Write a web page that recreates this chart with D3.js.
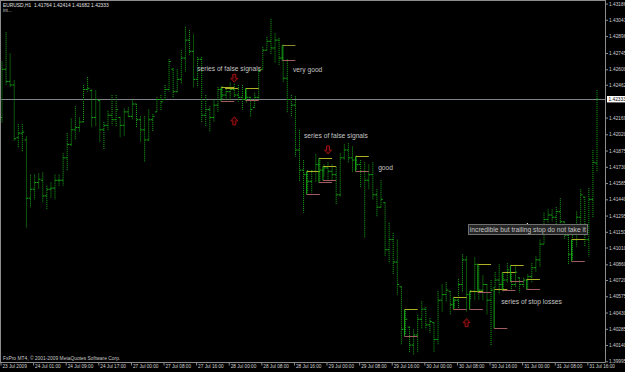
<!DOCTYPE html>
<html>
<head>
<meta charset="utf-8">
<script src="https://cdn.jsdelivr.net/npm/d3@7"></script>
<style>
body { margin: 0; background: #000; }
svg { display: block; }
text { font-family: "Liberation Sans", Arial, sans-serif; }
</style>
</head>
<body>
<div id="chart"></div>
<script>
// EURUSD H1, 23 Jul 2009 17:00 .. 31 Jul 2009
var opens = [1.4217,1.4260,1.4249,1.4246,1.4199,1.4203,1.4197,1.4145,1.4153,1.4159,1.4161,1.4147,1.4153,1.4154,1.4161,1.4161,1.4181,1.4193,1.4206,1.4208,
	1.4213,1.4242,1.4241,1.4217,1.4232,1.4206,1.4210,1.4219,1.4215,1.4217,1.4210,1.4222,1.4218,1.4229,1.4215,1.4206,1.4197,1.4215,1.4222,1.4233,
	1.4233,1.4242,1.4260,1.4240,1.4251,1.4270,1.4286,1.4276,1.4251,1.4269,1.4219,1.4224,1.4217,1.4228,1.4242,1.4237,1.4240,1.4242,1.4237,1.4235,
	1.4233,1.4235,1.4226,1.4235,1.4260,1.4277,1.4285,1.4279,1.4286,1.4270,1.4252,1.4233,1.4228,1.4188,1.4170,1.4166,1.4160,1.4169,1.4175,1.4170,
	1.4172,1.4169,1.4166,1.4148,1.4181,1.4188,1.4181,1.4179,1.4175,1.4169,1.4161,1.4166,1.4148,1.4137,1.4141,1.4099,1.4108,1.4088,1.4066,1.4028,
	1.4030,1.4014,1.4023,1.4037,1.4046,1.4032,1.4034,1.4019,1.4054,1.4059,1.4062,1.4050,1.4054,1.4068,1.4090,1.4059,1.4062,1.4086,1.4063,1.4068,
	1.4054,1.4065,1.4072,1.4068,1.4072,1.4079,1.4068,1.4074,1.4068,1.4072,1.4075,1.4083,1.4090,1.4104,1.4126,1.4130,1.4128,1.4133,1.4124,1.4112,
	1.4095,1.4108,1.4128,1.4146,1.4108,1.4144,1.41764];
var highs = [1.4267,1.4293,1.4274,1.4250,1.4211,1.4211,1.4200,1.4166,1.4166,1.4167,1.4168,1.4156,1.4159,1.4166,1.4166,1.4185,1.4203,1.4216,1.4227,1.4217,
	1.4246,1.4253,1.4242,1.4241,1.4233,1.4213,1.4223,1.4237,1.4237,1.4217,1.4225,1.4226,1.4233,1.4229,1.4218,1.4218,1.4224,1.4220,1.4235,1.4237,
	1.4246,1.4269,1.4261,1.4260,1.4277,1.4298,1.4295,1.4291,1.4271,1.4271,1.4237,1.4227,1.4233,1.4244,1.4245,1.4244,1.4248,1.4247,1.4246,1.4246,
	1.4242,1.4235,1.4239,1.4260,1.4280,1.4289,1.4305,1.4292,1.4288,1.4282,1.4269,1.4237,1.4236,1.4206,1.4179,1.4170,1.4170,1.4184,1.4181,1.4175,
	1.4177,1.4175,1.4173,1.4185,1.4193,1.4194,1.4191,1.4183,1.4179,1.4177,1.4175,1.4177,1.4153,1.4161,1.4141,1.4123,1.4114,1.4108,1.4066,1.4046,
	1.4030,1.4028,1.4041,1.4053,1.4048,1.4038,1.4034,1.4062,1.4068,1.4070,1.4062,1.4057,1.4073,1.4095,1.4093,1.4063,1.4092,1.4086,1.4076,1.4068,
	1.4072,1.4079,1.4086,1.4079,1.4087,1.4079,1.4085,1.4074,1.4074,1.4077,1.4087,1.4093,1.4108,1.4132,1.4135,1.4135,1.4137,1.4145,1.4124,1.4121,
	1.4112,1.4133,1.4153,1.4146,1.4154,1.4188,1.42414];
var lows = [1.4212,1.4246,1.4244,1.4196,1.4190,1.4186,1.4119,1.4137,1.4144,1.4153,1.4141,1.4135,1.4145,1.4144,1.4156,1.4156,1.4170,1.4191,1.4197,1.4204,
	1.4213,1.4240,1.4208,1.4209,1.4195,1.4188,1.4205,1.4210,1.4209,1.4199,1.4200,1.4217,1.4215,1.4208,1.4195,1.4177,1.4196,1.4204,1.4222,1.4223,
	1.4233,1.4240,1.4235,1.4239,1.4247,1.4258,1.4273,1.4244,1.4244,1.4213,1.4209,1.4204,1.4213,1.4222,1.4233,1.4231,1.4231,1.4235,1.4231,1.4224,
	1.4230,1.4218,1.4226,1.4233,1.4260,1.4277,1.4273,1.4266,1.4264,1.4248,1.4221,1.4218,1.4182,1.4160,1.4132,1.4150,1.4150,1.4159,1.4160,1.4164,
	1.4160,1.4161,1.4139,1.4146,1.4179,1.4177,1.4168,1.4170,1.4154,1.4110,1.4153,1.4144,1.4128,1.4137,1.4093,1.4087,1.4077,1.4059,1.4014,1.4023,
	1.4007,1.4005,1.4007,1.4028,1.4028,1.4025,1.4008,1.4014,1.4044,1.4053,1.4041,1.4046,1.4047,1.4061,1.4044,1.4054,1.4054,1.4054,1.4054,1.4041,
	1.4013,1.4065,1.4059,1.4062,1.4070,1.4063,1.4066,1.4061,1.4065,1.4063,1.4070,1.4079,1.4084,1.4104,1.4123,1.4124,1.4120,1.4121,1.4108,1.4086,
	1.4090,1.4102,1.4112,1.4102,1.4093,1.4128,1.41682];
var closes = [1.4260,1.4249,1.4246,1.4198,1.4203,1.4204,1.4145,1.4153,1.4159,1.4162,1.4147,1.4153,1.4154,1.4161,1.4161,1.4181,1.4193,1.4206,1.4208,1.4213,
	1.4242,1.4243,1.4217,1.4233,1.4206,1.4210,1.4219,1.4215,1.4224,1.4210,1.4222,1.4218,1.4229,1.4215,1.4206,1.4197,1.4215,1.4218,1.4233,1.4231,
	1.4242,1.4267,1.4240,1.4251,1.4270,1.4286,1.4276,1.4251,1.4269,1.4219,1.4224,1.4217,1.4228,1.4242,1.4237,1.4240,1.4242,1.4237,1.4235,1.4233,
	1.4235,1.4224,1.4235,1.4258,1.4277,1.4285,1.4279,1.4286,1.4270,1.4252,1.4233,1.4228,1.4188,1.4170,1.4166,1.4160,1.4169,1.4175,1.4170,1.4172,
	1.4169,1.4166,1.4148,1.4181,1.4188,1.4181,1.4179,1.4175,1.4169,1.4161,1.4166,1.4148,1.4137,1.4144,1.4099,1.4108,1.4088,1.4068,1.4028,1.4037,
	1.4014,1.4023,1.4037,1.4046,1.4032,1.4035,1.4019,1.4054,1.4059,1.4063,1.4050,1.4054,1.4068,1.4090,1.4059,1.4062,1.4086,1.4063,1.4068,1.4054,
	1.4063,1.4072,1.4068,1.4072,1.4081,1.4068,1.4079,1.4068,1.4072,1.4075,1.4083,1.4090,1.4104,1.4126,1.4130,1.4128,1.4133,1.4124,1.4112,1.4095,
	1.4108,1.4128,1.4148,1.4108,1.4144,1.4177,1.42333];

// time axis
var timeLabels = ['23 Jul 2009','24 Jul 01:00','24 Jul 09:00','24 Jul 17:00','27 Jul 00:00','27 Jul 08:00','27 Jul 16:00',
	'28 Jul 00:00','28 Jul 08:00','28 Jul 16:00','29 Jul 00:00','29 Jul 08:00','29 Jul 16:00','30 Jul 00:00',
	'30 Jul 08:00','30 Jul 16:00','31 Jul 00:00','31 Jul 08:00','31 Jul 16:00'];
var timeLabelBars = [0,8,16,24,32,40,48,56,64,72,80,88,96,104,112,120,128,136,144];

// price axis
var priceTicks = ['1.43186','1.43041','1.42896','1.42745','1.42600','1.42462','1.42169','1.42020','1.41875','1.41730','1.41585',
	'1.41440','1.41295','1.41150','1.41010','1.40860','1.40720','1.40575','1.40430','1.40285','1.40140','1.39995'];

// signal brackets: entry level (yellow) and stop level (pink)
var signalBars  = [54,55,60,69,75,78,79,87,99,111,115,117,121,123,125,129,140];
var signalEntry = [1.4244,1.4243,1.4243,1.4282,1.4169,1.4181,1.4174,1.4183,1.4046,1.4057,1.4062,1.4086,1.4064,1.4079,1.4085,1.4073,1.4109];
var signalStop  = [1.4232,null,1.4233,1.4268,1.4149,1.4159,1.4161,1.4169,1.4022,1.4046,1.4046,1.4061,1.4029,1.4063,1.4071,1.4064,1.4089];

// arrows
var arrowBars   = [57,57,80,114];
var arrowPrices = [1.4252,1.4214,1.4188,1.4034];
var arrowDirs   = ['down','up','down','up'];

// text notes
var noteTexts  = ['series of false signals','very good','series of false signals','good',
	'incredible but trailing stop do not take it','series of stop losses'];
var noteBars   = [47.9,71.4,74.1,92.3,114.8,122.5];
var notePrices = [1.4261,1.4260,1.4201,1.4172,1.4117,1.4053];
var noteBoxed  = [false,false,false,false,true,false];

var W = 625, H = 372, plotRight = 605.5, plotBottom = 362.5;
var barColor = '#15a515';

var svg = d3.select('#chart').append('svg').attr('width', W).attr('height', H);
svg.append('rect').attr('width', W).attr('height', H).attr('fill', '#000');

var x = d3.scaleLinear().domain([0, opens.length - 1]).range([2, 597]);
var y = d3.scaleLinear().domain([1.39995, 1.43218]).range([361.3, 0]);

svg.append('clipPath').attr('id', 'plot').append('rect')
	.attr('x', 0).attr('y', 0).attr('width', plotRight).attr('height', plotBottom);

var plot = svg.append('g').attr('clip-path', 'url(#plot)');

// current price line
var last = closes[closes.length - 1];
plot.append('line')
	.attr('x1', 0).attr('x2', plotRight)
	.attr('y1', Math.round(y(last)) + 0.5).attr('y2', Math.round(y(last)) + 0.5)
	.attr('stroke', '#7e838a').attr('stroke-width', 1);

// OHLC bars
var bars = plot.append('g').selectAll('g').data(d3.range(opens.length)).enter().append('g');
bars.append('line')
	.attr('x1', function (i) { return x(i); }).attr('x2', function (i) { return x(i); })
	.attr('y1', function (i) { return y(highs[i]); }).attr('y2', function (i) { return y(lows[i]); })
	.attr('stroke', barColor).attr('stroke-width', 1).attr('stroke-dasharray', '1,1');
bars.append('line')
	.attr('x1', function (i) { return x(i) - 1.8; }).attr('x2', function (i) { return x(i); })
	.attr('y1', function (i) { return y(opens[i]); }).attr('y2', function (i) { return y(opens[i]); })
	.attr('stroke', barColor).attr('stroke-width', 1);
bars.append('line')
	.attr('x1', function (i) { return x(i); }).attr('x2', function (i) { return x(i) + 1.8; })
	.attr('y1', function (i) { return y(closes[i]); }).attr('y2', function (i) { return y(closes[i]); })
	.attr('stroke', barColor).attr('stroke-width', 1);

// signal brackets
signalBars.forEach(function (b, k) {
	var x0 = x(b) - 1, x1 = x(b + 3);
	var ye = Math.round(y(signalEntry[k])) + 0.5;
	plot.append('line').attr('x1', x0).attr('x2', x1).attr('y1', ye).attr('y2', ye)
		.attr('stroke', b === 69 ? '#8f8f2a' : '#b0b026').attr('stroke-width', 1);
	if (signalStop[k] !== null) {
		var ys = Math.round(y(signalStop[k])) + 0.5;
		plot.append('line').attr('x1', x0).attr('x2', x0).attr('y1', ye).attr('y2', ys)
			.attr('stroke', barColor).attr('stroke-width', 1);
		plot.append('line').attr('x1', x0).attr('x2', x1).attr('y1', ys).attr('y2', ys)
			.attr('stroke', '#a05a60').attr('stroke-width', 1);
	}
});

// arrows
var downArrow = 'M-1.5,-4L1.5,-4L1.5,0L3.5,0L0,4L-3.5,0L-1.5,0Z';
var upArrow = 'M-1.5,4L1.5,4L1.5,0L3.5,0L0,-4L-3.5,0L-1.5,0Z';
arrowBars.forEach(function (b, k) {
	plot.append('path')
		.attr('d', arrowDirs[k] === 'down' ? downArrow : upArrow)
		.attr('transform', 'translate(' + x(b) + ',' + y(arrowPrices[k]) + ')')
		.attr('fill', '#2a0000').attr('stroke', '#b01414').attr('stroke-width', 0.9);
});

// notes
noteTexts.forEach(function (t, k) {
	var tx = x(noteBars[k]), ty = y(notePrices[k]);
	var g = plot.append('g');
	var txt = g.append('text')
		.attr('x', tx).attr('y', ty + 2.4)
		.attr('font-size', '6.7px').attr('fill', '#c4c4c4')
		.text(t);
	if (noteBoxed[k]) {
		var bb = txt.node().getBBox();
		g.insert('rect', 'text')
			.attr('x', Math.floor(bb.x) - 0.5).attr('y', Math.floor(ty) - 4.5)
			.attr('width', Math.ceil(bb.width) + 2).attr('height', 10)
			.attr('fill', '#262626').attr('stroke', '#707070').attr('stroke-width', 1);
		g.append('rect').attr('x', tx + 57).attr('y', Math.floor(ty) - 6).attr('width', 1).attr('height', 1).attr('fill', '#fff');
	}
});

// frame
var frame = svg.append('g').attr('stroke', '#8c8c8c').attr('stroke-width', 1);
frame.append('line').attr('x1', 0).attr('x2', plotRight).attr('y1', 0.5).attr('y2', 0.5);
frame.append('line').attr('x1', 0.5).attr('x2', 0.5).attr('y1', 0).attr('y2', plotBottom);
frame.append('line').attr('x1', 0).attr('x2', plotRight).attr('y1', plotBottom).attr('y2', plotBottom);
frame.append('line').attr('x1', plotRight).attr('x2', plotRight).attr('y1', 0).attr('y2', plotBottom);

// price axis
var yAxis = d3.axisRight(y).tickValues(priceTicks.map(Number))
	.tickFormat(function (d, i) { return priceTicks[i]; })
	.tickSize(2.5).tickSizeOuter(0).tickPadding(1);
var ya = svg.append('g').attr('transform', 'translate(' + plotRight + ',0)').call(yAxis);
ya.select('.domain').remove();
ya.selectAll('.tick line').attr('stroke', '#8c8c8c');
ya.selectAll('.tick text').attr('fill', '#d0d0d0').attr('font-size', '4.8px')
	.attr('font-family', '"Liberation Sans", Arial, sans-serif');

// current price label
var cy = y(last);
svg.append('rect').attr('x', 607).attr('y', cy - 3.2).attr('width', 20).attr('height', 6.4).attr('fill', '#ffffff');
svg.append('text').attr('x', 608.5).attr('y', cy + 1.7).attr('font-size', '4.8px').attr('fill', '#000')
	.text(last.toFixed(5));

// time axis
var xAxis = d3.axisBottom(x).tickValues(timeLabelBars)
	.tickFormat(function (d, i) { return timeLabels[i]; })
	.tickSize(3).tickSizeOuter(0);
var xa = svg.append('g').attr('transform', 'translate(-1.5,' + plotBottom + ')').call(xAxis);
xa.select('.domain').remove();
xa.selectAll('.tick line').attr('stroke', '#8c8c8c');
xa.selectAll('.tick text').attr('fill', '#d0d0d0').attr('font-size', '4.7px')
	.attr('text-anchor', 'start').attr('dx', '1.5').attr('y', 2.5)
	.attr('font-family', '"Liberation Sans", Arial, sans-serif');

// header and footer
var fmt = d3.format('.5f');
var n = opens.length - 1;
svg.append('text').attr('x', 3).attr('y', 6.5).attr('font-size', '4.9px').attr('fill', '#e0e0e0')
	.attr('xml:space', 'preserve')
	.text('EURUSD,H1  ' + fmt(opens[n]) + ' ' + fmt(highs[n]) + ' ' + fmt(lows[n]) + ' ' + fmt(closes[n]));
svg.append('text').attr('x', 3).attr('y', 11.8).attr('font-size', '4.6px').attr('fill', '#c8c8c8').text('int...');
svg.append('text').attr('x', 3).attr('y', 360).attr('font-size', '4.9px').attr('fill', '#c8c8c8')
	.text('FxPro MT4, \u00a9 2001-2009 MetaQuotes Software Corp.');
</script>
</body>
</html>
